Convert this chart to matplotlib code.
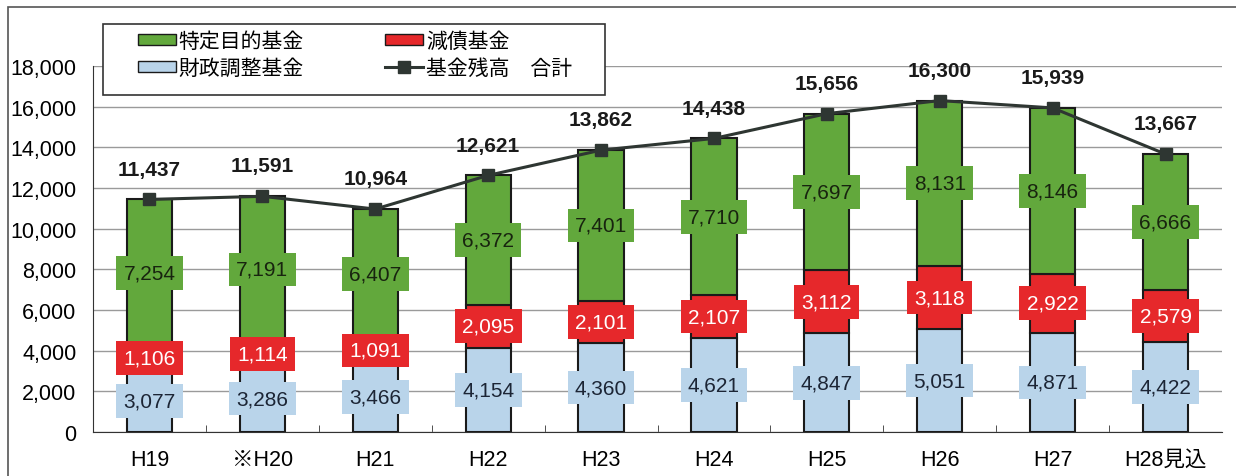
import numpy as np
import matplotlib.pyplot as plt
from matplotlib.patches import Patch, Rectangle
from matplotlib.lines import Line2D

plt.rcParams['font.family'] = ['Liberation Sans', 'Noto Sans CJK JP', 'DejaVu Sans']

years = ["H19", "※H20", "H21", "H22", "H23", "H24", "H25", "H26", "H27", "H28見込"]
zaisei = [3077, 3286, 3466, 4154, 4360, 4621, 4847, 5051, 4871, 4422]
gensai = [1106, 1114, 1091, 2095, 2101, 2107, 3112, 3118, 2922, 2579]
tokutei = [7254, 7191, 6407, 6372, 7401, 7710, 7697, 8131, 8146, 6666]
total = [11437, 11591, 10964, 12621, 13862, 14438, 15656, 16300, 15939, 13667]

c_green = "#62a83c"
c_red = "#e6282b"
c_blue = "#b9d4ea"
c_line = "#2e3632"

fig = plt.figure(figsize=(12.36, 4.77), dpi=100)
ax = fig.add_axes([93/1236, 1-433/477, (1222-93)/1236, (433-67)/477])

x = np.arange(len(years))
w = 0.4
b1 = np.array(zaisei)
b2 = b1 + np.array(gensai)

ax.bar(x, zaisei, w, color=c_blue, edgecolor="#1a1a1a", lw=1.5, zorder=3)
ax.bar(x, gensai, w, bottom=b1, color=c_red, edgecolor="#1a1a1a", lw=1.5, zorder=3)
ax.bar(x, tokutei, w, bottom=b2, color=c_green, edgecolor="#1a1a1a", lw=1.5, zorder=3)
ax.plot(x, total, color=c_line, lw=2.2, marker="s", ms=9, zorder=5)

fs = 15
for i in x:
    ax.text(i, zaisei[i] / 2, f"{zaisei[i]:,}", ha="center", va="center", fontsize=fs,
            color="#1c2535", zorder=6,
            bbox=dict(boxstyle="square,pad=0.35", fc=c_blue, ec="none"))
    ax.text(i, b1[i] + gensai[i] / 2, f"{gensai[i]:,}", ha="center", va="center", fontsize=fs,
            color="white", zorder=6,
            bbox=dict(boxstyle="square,pad=0.35", fc=c_red, ec="none"))
    ax.text(i, b2[i] + tokutei[i] / 2, f"{tokutei[i]:,}", ha="center", va="center", fontsize=fs,
            color="#18240f", zorder=6,
            bbox=dict(boxstyle="square,pad=0.35", fc=c_green, ec="none"))
    ax.annotate(f"{total[i]:,}", (i, total[i]), xytext=(0, 15), textcoords="offset points",
                ha="center", va="bottom", fontsize=fs, fontweight="bold", color="#1a1a1a")

ax.set_xlim(-0.5, len(years) - 0.5)
ax.set_ylim(0, 18000)
ax.set_yticks(np.arange(0, 18001, 2000))
ax.set_yticklabels([f"{v:,}" for v in range(0, 18001, 2000)], fontsize=15.5)
ax.set_xticks(x)
ax.set_xticklabels(years, fontsize=15.5)
ax.tick_params(axis="x", length=0, pad=12)
ax.tick_params(axis="y", length=0, pad=12)
ax.set_xticks(np.arange(0.5, len(years) - 1, 1), minor=True)
ax.tick_params(axis="x", which="minor", direction="in", length=5, color="#333333")
ax.grid(axis="y", color="#9a9a9a", lw=1, zorder=0)
for s in ["top", "right"]:
    ax.spines[s].set_visible(False)
ax.spines["left"].set_color("#333333")
ax.spines["bottom"].set_color("#333333")

handles = [
    Patch(fc=c_green, ec="#1a1a1a", label="特定目的基金"),
    Patch(fc=c_blue, ec="#1a1a1a", label="財政調整基金"),
    Patch(fc=c_red, ec="#1a1a1a", label="減債基金"),
    Line2D([], [], color=c_line, lw=2.2, marker="s", ms=9, label="基金残高　合計"),
]
leg = fig.legend(handles=handles, ncol=2, loc="upper left",
                 bbox_to_anchor=(134/1236, 1-28/477), fontsize=15,
                 frameon=False, handlelength=1.8, handleheight=0.45,
                 columnspacing=3.9, labelspacing=0.35, handletextpad=0.15,
                 borderpad=0.2, borderaxespad=0)

# legend frame and outer chart border
fig.patches.append(Rectangle((103/1236, 1-96/477), (605-103)/1236, (96-25)/477,
                             transform=fig.transFigure, fill=True, fc="white",
                             ec="#333333", lw=1.2, zorder=1))
fig.patches.append(Rectangle((8/1236, -0.1), 1.2, 1 - 8/477 + 0.1, transform=fig.transFigure,
                             fill=False, ec="#555555", lw=1.2))

fig.savefig("out.png", dpi=100)
